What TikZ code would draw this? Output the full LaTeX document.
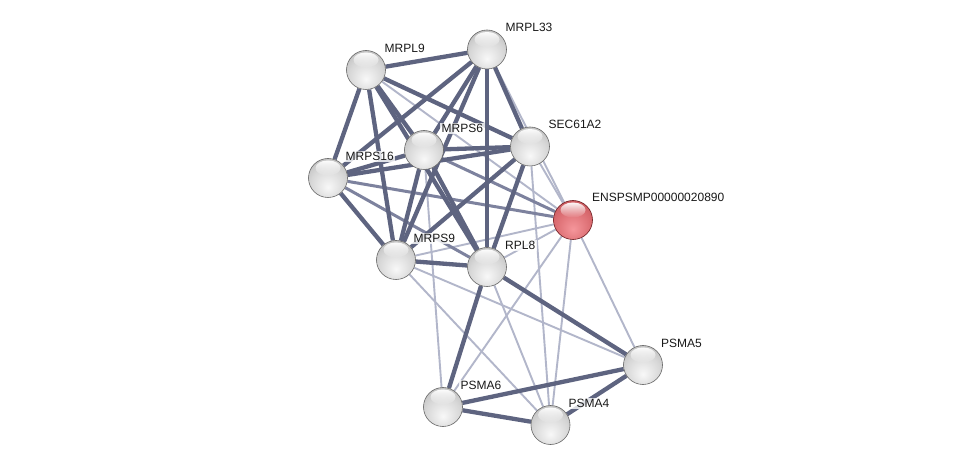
\documentclass[tikz,border=0pt]{standalone}
\usepackage{fontspec}
\setmainfont{Liberation Sans}
\usetikzlibrary{calc,fadings}
\definecolor{strongc}{RGB}{94,100,128}
\definecolor{midc}{RGB}{125,130,158}
\definecolor{weakc}{RGB}{178,182,202}
\definecolor{g0}{RGB}{248,248,248}
\definecolor{g1}{RGB}{215,215,215}
\definecolor{g2}{RGB}{175,175,175}
\definecolor{g3}{RGB}{115,115,115}
\definecolor{r0}{RGB}{245,150,155}
\definecolor{r1}{RGB}{220,110,115}
\definecolor{r2}{RGB}{190,75,80}
\definecolor{r3}{RGB}{135,35,40}
\pgfdeclareradialshading{gsph}{\pgfpoint{0bp}{-12bp}}{color(0bp)=(g0); color(22bp)=(g1); color(42bp)=(g2); color(60bp)=(g3); color(75bp)=(g3)}
\pgfdeclareradialshading{rsph}{\pgfpoint{0bp}{-12bp}}{color(0bp)=(r0); color(22bp)=(r1); color(42bp)=(r2); color(60bp)=(r3); color(75bp)=(r3)}
\pgfdeclarelayer{bg}
\pgfsetlayers{bg,main}
\tikzset{
  gnode/.style={circle, minimum size=39pt, inner sep=0pt, shading=gsph, draw=black!60, line width=0.6pt},
  rnode/.style={circle, minimum size=39pt, inner sep=0pt, shading=rsph, draw=r3!80!black, line width=0.6pt},
  lbl/.style={anchor=base west, inner sep=1.5pt, fill=white, fill opacity=0.8, text opacity=1, font=\fontsize{12}{14}\selectfont, text=black!90},
  strong/.style={draw=strongc, line width=4.3pt},
  mid/.style={draw=midc, line width=3pt},
  weak/.style={draw=weakc, line width=1.9pt},
  hl/.style={fill=white, path fading=south, opacity=0.95}
}
\begin{document}
\begin{tikzpicture}[x=1pt,y=-1pt]
\useasboundingbox (0,0) rectangle (975,470);
% nodes
\node[gnode] (mrpl9) at (366,70) {};
\node[gnode] (mrpl33) at (487,49.5) {};
\node[gnode] (sec) at (530,146.5) {};
\node[gnode] (mrps6) at (424,150) {};
\node[gnode] (mrps16) at (328,178) {};
\node[rnode] (ensp) at (573,220) {};
\node[gnode] (mrps9) at (396,260) {};
\node[gnode] (rpl8) at (487,267) {};
\node[gnode] (psma5) at (643,365) {};
\node[gnode] (psma6) at (443,407) {};
\node[gnode] (psma4) at (550.5,425) {};
% highlights
\foreach \n in {mrpl9,mrpl33,sec,mrps6,mrps16,ensp,mrps9,rpl8,psma5,psma6,psma4}{
  \fill[hl] ($(\n)+(0,-10)$) ellipse (12.5 and 7.5);
}
% labels
\node[lbl] (l1) at ($(mrpl9)+(17,-17)$) {MRPL9};
\node[lbl] (l2) at ($(mrpl33)+(17,-17.5)$) {MRPL33};
\node[lbl] (l3) at ($(sec)+(17,-17.5)$) {SEC61A2};
\node[lbl] (l4) at ($(mrps6)+(16,-17.5)$) {MRPS6};
\node[lbl] (l5) at ($(mrps16)+(16,-17.5)$) {MRPS16};
\node[lbl] (l6) at ($(ensp)+(17.5,-18)$) {ENSPSMP00000020890};
\node[lbl] (l7) at ($(mrps9)+(16,-17.5)$) {MRPS9};
\node[lbl] (l8) at ($(rpl8)+(16.5,-17.5)$) {RPL8};
\node[lbl] (l9) at ($(psma5)+(16.5,-17.5)$) {PSMA5};
\node[lbl] (l10) at ($(psma6)+(16,-17.5)$) {PSMA6};
\node[lbl] (l11) at ($(psma4)+(16.5,-17.5)$) {PSMA4};
% edges
\begin{pgfonlayer}{bg}
\fill[white] (0,0) rectangle (975,470);
\draw[weak] (mrpl9) -- (ensp);
\draw[weak] (mrpl33) -- (ensp);
\draw[weak] (sec) -- (psma4);
\draw[weak] (mrps6) -- (psma6);
\draw[weak] (mrps9) -- (psma4);
\draw[weak] (mrps9) -- (psma5);
\draw[weak] (rpl8) -- (psma4);
\draw[weak] (ensp) -- (psma6);
\draw[weak] (ensp) -- (psma4);
\draw[weak] (ensp) -- (psma5);
\draw[weak] (mrps9) -- (ensp);
\draw[weak] (rpl8) -- (ensp);
\draw[weak] (sec) -- (ensp);
\draw[mid] (mrps16) -- (ensp);
\draw[mid] (mrps6) -- (ensp);
\draw[mid] (mrps16) -- (rpl8);
\draw[strong] (mrpl9) -- (mrpl33);
\draw[strong] (mrpl9) -- (mrps16);
\draw[strong] (mrpl9) -- (mrps6);
\draw[strong] (mrpl9) -- (mrps9);
\draw[strong] (mrpl9) -- (rpl8);
\draw[strong] (mrpl9) -- (sec);
\draw[strong] (mrpl33) -- (mrps16);
\draw[strong] (mrpl33) -- (mrps6);
\draw[strong] (mrpl33) -- (mrps9);
\draw[strong] (mrpl33) -- (rpl8);
\draw[strong] (mrpl33) -- (sec);
\draw[strong] (sec) -- (mrps6);
\draw[strong] (sec) -- (mrps16);
\draw[strong] (sec) -- (mrps9);
\draw[strong] (sec) -- (rpl8);
\draw[strong] (mrps6) -- (mrps16);
\draw[strong] (mrps6) -- (mrps9);
\draw[strong] (mrps6) -- (rpl8);
\draw[strong] (mrps16) -- (mrps9);
\draw[strong] (mrps9) -- (rpl8);
\draw[strong] (rpl8) -- (psma6);
\draw[strong] (rpl8) -- (psma5);
\draw[strong] (psma6) -- (psma5);
\draw[strong] (psma6) -- (psma4);
\draw[strong] (psma4) -- (psma5);
\end{pgfonlayer}
\end{tikzpicture}
\end{document}
